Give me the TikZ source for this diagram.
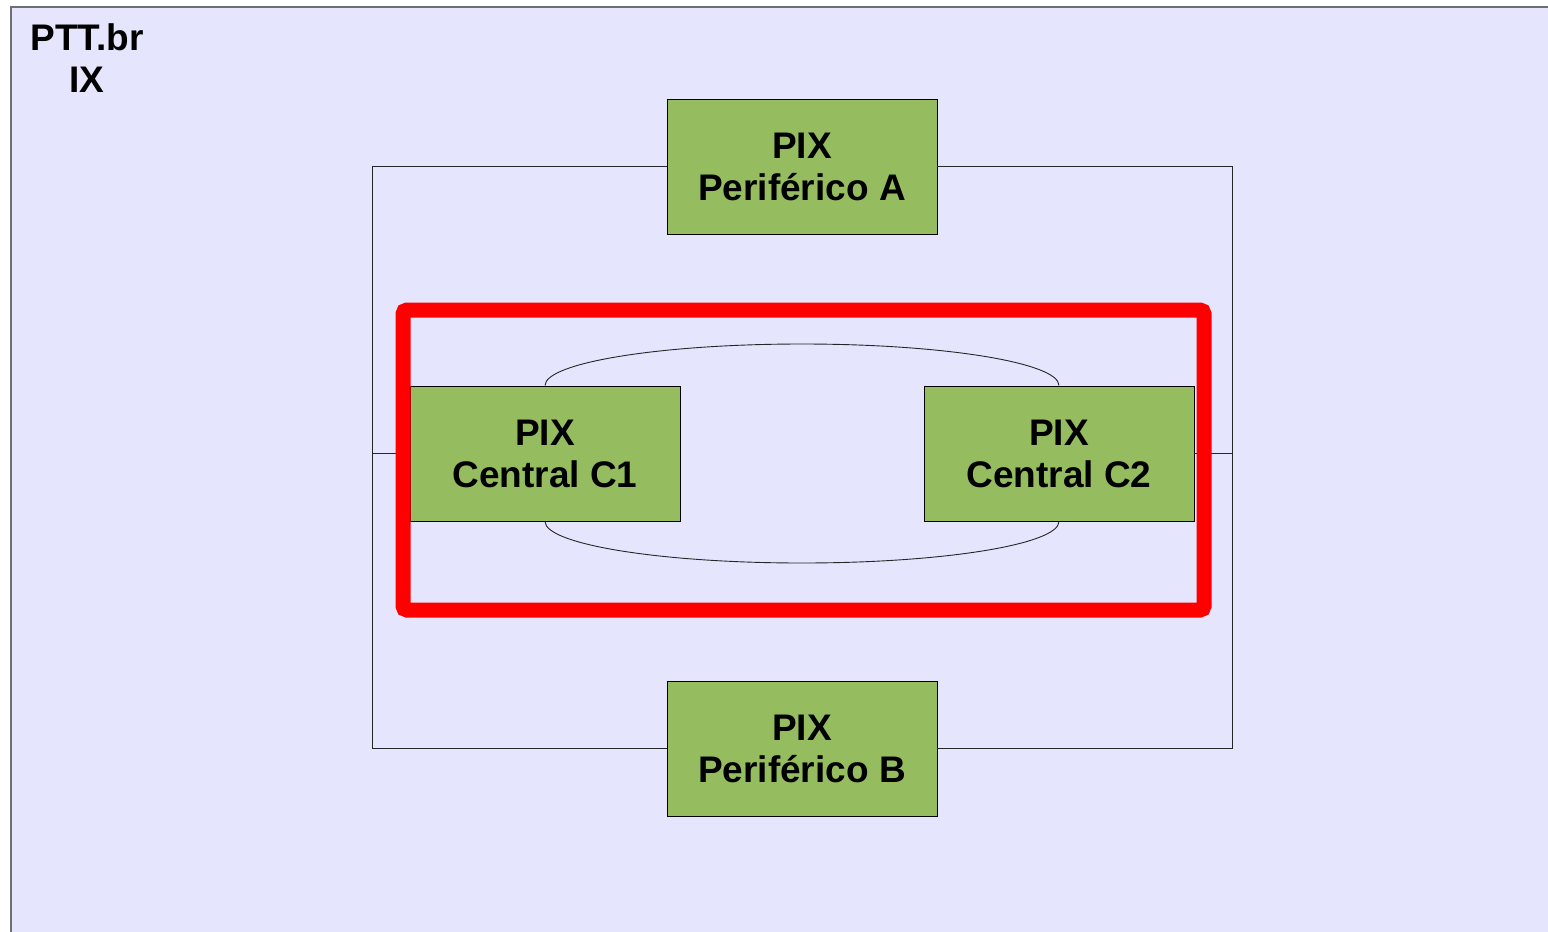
\documentclass[tikz,border=0pt]{standalone}
\usepackage{fontspec}
\setmainfont{Liberation Sans}
\definecolor{panelfill}{RGB}{229,229,253}
\definecolor{panelline}{RGB}{110,110,110}
\definecolor{boxgreen}{RGB}{149,189,96}
\tikzset{
  pixbox/.style={draw=black, line width=0.9pt, fill=boxgreen, minimum width=270, minimum height=135,
    inner sep=0pt, align=center, font=\fontsize{37}{42}\selectfont\bfseries},
  wire/.style={draw=black!85, line width=0.9pt},
}
\begin{document}
\begin{tikzpicture}[x=1pt,y=-1pt]
\useasboundingbox (0,0) rectangle (1548,932);
\begin{scope}
\clip (0,0) rectangle (1548,932);
\draw[panelline, line width=2pt, fill=panelfill] (11,7) rectangle (1560,945);
\end{scope}
\node[align=center, font=\fontsize{37}{42}\selectfont\bfseries] (title) at (87,58) {PTT.br\\IX};

\node[pixbox] (pa) at (802,166.5) {PIX\\Periférico A};
\node[pixbox] (pb) at (802,748.5) {PIX\\Periférico B};
\node[pixbox] (c1) at (545,453.5) {PIX\\Central C1};
\node[pixbox] (c2) at (1059,453.5) {PIX\\Central C2};

\coordinate (lt) at (372,166.5);
\coordinate (lb) at (372,748.5);
\coordinate (lm) at (372,453.5);
\coordinate (rt) at (1232,166.5);
\coordinate (rb) at (1232,748.5);
\coordinate (rm) at (1232,453.5);

\draw[wire] (pa.west) -- (lt) -- (lb) -- (pb.west);
\draw[wire] (pa.east) -- (rt) -- (rb) -- (pb.east);
\draw[wire] (lm) -- (c1.west);
\draw[wire] (c2.east) -- (rm);

\draw[wire] (c1.north) .. controls (545,362.8) and (660,344) .. (802,344)
  .. controls (944,344) and (1059,362.8) .. (c2.north);
\draw[wire] (c1.south) .. controls (545,544.2) and (660,563) .. (802,563)
  .. controls (944,563) and (1059,544.2) .. (c2.south);

\draw[red, line width=15pt, rounded corners=4pt] (403,310) rectangle (1204,610);
\end{tikzpicture}
\end{document}
